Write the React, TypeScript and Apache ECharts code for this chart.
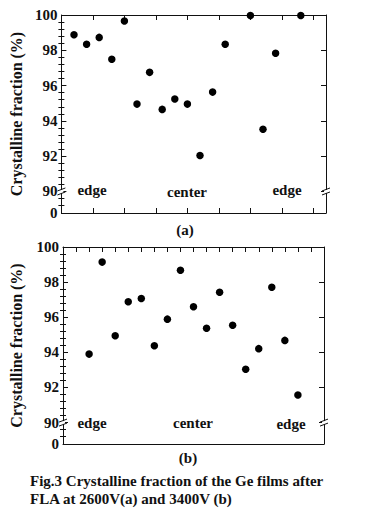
import React, { useEffect, useRef } from "react";
import * as echarts from "echarts";

// Panel (a): positions along the film (arbitrary units) and crystalline fraction (%)
const aX = [1, 2, 3, 4, 5, 6, 7, 8, 9, 10, 11, 12, 13, 15, 16, 17, 19];
const aY = [98.88, 98.34, 98.73, 97.49, 99.66, 94.95, 96.75, 94.65, 95.24, 94.95, 92.04, 95.63, 98.34, 99.97, 93.53, 97.83, 99.97];
// Panel (b)
const bX = [2, 3, 4, 5, 6, 7, 8, 9, 10, 11, 12, 13, 14, 15, 16, 17, 18];
const bY = [93.9, 99.14, 94.95, 96.88, 97.07, 94.38, 95.89, 98.68, 96.6, 95.37, 97.42, 95.54, 93.04, 94.21, 97.71, 94.68, 91.57];

const yTickLabels = [90, 92, 94, 96, 98, 100];
const yBreakLabel = "0";
const regionLabels = ["edge", "center", "edge"];
const panelLabels = ["(a)", "(b)"];
const yTitle = "Crystalline fraction (%)";
const caption = [
  "Fig.3 Crystalline fraction of the Ge films after",
  "FLA at 2600V(a) and 3400V (b)",
];

export default function App() {
  const ref = useRef<HTMLDivElement>(null);
  useEffect(() => {
    const el = ref.current!;
    const chart = echarts.init(el, null, { renderer: "svg" });
    const FONT = "Liberation Serif, Times New Roman, serif";
    const INK = "#111";
    const YMIN = 88.78;
    const YMAX = 100;
    const majorVals = [YMIN, ...yTickLabels];
    const minorVals: number[] = [];
    for (let k = 0; k < 28; k++) {
      const v = Math.round((100 - 0.4 * k) * 10) / 10;
      if (v > 89 && !yTickLabels.includes(v)) minorVals.push(v);
    }
    const grids = [
      { left: 54, top: 15, width: 272, height: 198 },
      { left: 54, top: 247, width: 270, height: 197 },
    ];
    const xCfg = [
      { max: 21, interval: 2.5, bottomTicks: true },
      { max: 20, interval: 1, bottomTicks: false },
    ];
    const nameGaps = [34, 39];
    const xAxis: any[] = [];
    const yAxis: any[] = [];
    const series: any[] = [];
    const line = { color: INK, width: 1 };
    grids.forEach((g, i) => {
      const base = {
        type: "value",
        gridIndex: i,
        min: 0,
        max: xCfg[i].max,
        interval: xCfg[i].interval,
        axisLabel: { show: false },
        splitLine: { show: false },
      };
      xAxis.push({
        ...base,
        position: "bottom",
        axisLine: { show: true, onZero: false, lineStyle: line },
        axisTick: { show: xCfg[i].bottomTicks, inside: true, length: 5, lineStyle: line },
      });
      xAxis.push({
        ...base,
        position: "top",
        axisLine: { show: true, onZero: false, lineStyle: line },
        axisTick: { show: true, inside: true, length: 5, lineStyle: line },
      });
      const ybase = {
        type: "value",
        gridIndex: i,
        min: YMIN,
        max: YMAX,
        splitLine: { show: false },
      };
      yAxis.push({
        ...ybase,
        position: "left",
        name: yTitle,
        nameLocation: "middle",
        nameRotate: 90,
        nameGap: nameGaps[i],
        nameTextStyle: { fontFamily: FONT, fontWeight: "bold", fontSize: 16, color: INK },
        axisLine: { show: true, onZero: false, lineStyle: line },
        axisTick: { show: true, inside: true, length: 5, lineStyle: line, customValues: yTickLabels },
        axisLabel: {
          show: true,
          customValues: majorVals,
          margin: 4,
          fontFamily: FONT,
          fontWeight: "bold",
          fontSize: 15,
          color: INK,
          formatter: (v: number) => (v < 89 ? yBreakLabel : String(v)),
        },
      });
      yAxis.push({
        ...ybase,
        position: "left",
        axisLine: { show: false },
        axisTick: { show: true, inside: true, length: 3, lineStyle: line, customValues: minorVals },
        axisLabel: { show: false },
      });
      yAxis.push({
        ...ybase,
        position: "right",
        axisLine: { show: true, onZero: false, lineStyle: line },
        axisTick: { show: true, inside: true, length: 5, lineStyle: line, customValues: yTickLabels },
        axisLabel: { show: false },
      });
      yAxis.push({
        ...ybase,
        position: "right",
        axisLine: { show: false },
        axisTick: { show: true, inside: true, length: 3, lineStyle: line, customValues: minorVals },
        axisLabel: { show: false },
      });
      const xs = i === 0 ? aX : bX;
      const ys = i === 0 ? aY : bY;
      series.push({
        type: "scatter",
        xAxisIndex: 2 * i,
        yAxisIndex: 4 * i,
        data: xs.map((x, k) => [x, ys[k]]),
        symbol: "circle",
        symbolSize: 7.5,
        itemStyle: { color: "#000", opacity: 1 },
        clip: false,
        z: 5,
      });
    });

    chart.setOption({
      animation: false,
      backgroundColor: "#fff",
      grid: grids,
      xAxis,
      yAxis,
      series,
    });

    const textStyle = (s: string, size: number) => ({
      text: s,
      fontFamily: FONT,
      fontWeight: "bold",
      fontSize: size,
      fill: INK,
    });
    const graphic: any[] = [];
    const regionPos = [
      [
        [92, 190],
        [187, 192],
        [287, 190],
      ],
      [
        [92, 423],
        [193, 423],
        [291, 424],
      ],
    ];
    grids.forEach((g, i) => {
      const pl = chart.convertToPixel({ xAxisIndex: 2 * i, yAxisIndex: 4 * i }, [0, 90]) as number[];
      const pr = chart.convertToPixel({ xAxisIndex: 2 * i, yAxisIndex: 4 * i }, [xCfg[i].max, 90]) as number[];
      [pl, pr].forEach((p) => {
        const [x, y] = p;
        graphic.push({ type: "rect", z: 100, shape: { x: x - 2, y: y - 1.5, width: 4, height: 3 }, style: { fill: "#fff" } });
        graphic.push({ type: "line", z: 101, shape: { x1: x - 4, y1: y - 0.5, x2: x + 4, y2: y - 3.5 }, style: { stroke: INK, lineWidth: 1 } });
        graphic.push({ type: "line", z: 101, shape: { x1: x - 4, y1: y + 3.5, x2: x + 4, y2: y + 0.5 }, style: { stroke: INK, lineWidth: 1 } });
      });
      regionLabels.forEach((t, k) => {
        graphic.push({
          type: "text",
          z: 50,
          x: regionPos[i][k][0],
          y: regionPos[i][k][1],
          style: { ...textStyle(t, 15), textAlign: "center", textVerticalAlign: "middle" },
        });
      });
    });
    graphic.push({ type: "text", x: 185, y: 230, style: { ...textStyle(panelLabels[0], 15), textAlign: "center", textVerticalAlign: "middle" } });
    graphic.push({ type: "text", x: 188, y: 458, style: { ...textStyle(panelLabels[1], 15), textAlign: "center", textVerticalAlign: "middle" } });
    graphic.push({ type: "text", x: 30, y: 481, style: { ...textStyle(caption[0], 15), textAlign: "left", textVerticalAlign: "middle" } });
    graphic.push({ type: "text", x: 30, y: 499, style: { ...textStyle(caption[1], 15), textAlign: "left", textVerticalAlign: "middle" } });
    chart.setOption({ graphic });

    return () => chart.dispose();
  }, []);
  return (
    <div
      ref={ref}
      style={{ position: "fixed", left: 0, top: 0, width: 370, height: 512, background: "#fff" }}
    />
  );
}
